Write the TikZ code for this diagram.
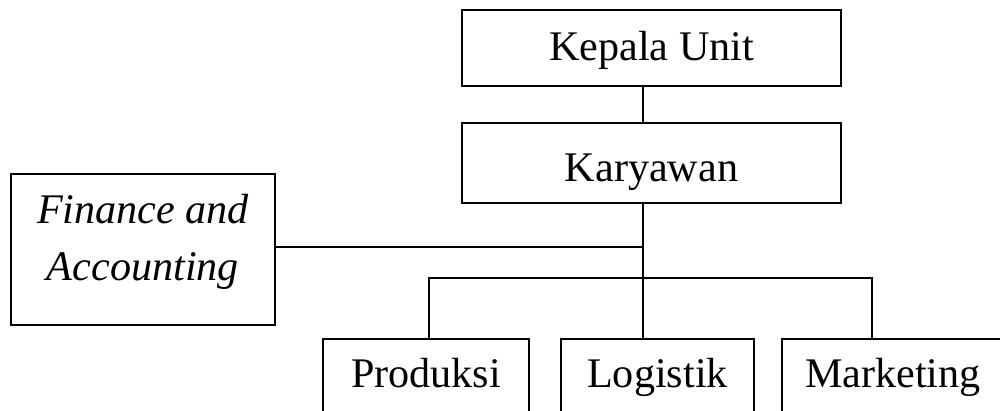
\documentclass[tikz,border=0pt]{standalone}
\usepackage{fontspec}
\setmainfont{Liberation Serif}
\usetikzlibrary{positioning}

\begin{document}
\begin{tikzpicture}[x=0.02cm, y=-0.02cm, line width=1pt,
  unitbox/.style={draw, rectangle, inner sep=0pt, font=\fontsize{24}{32.4}\selectfont,
    text height=18pt, text depth=3.26pt},
  lowbox/.style={unitbox, minimum height=1.52cm, text height=16pt, text depth=3.5pt}]
\clip (0,0) rectangle (1000,411);

\node[unitbox, minimum width=7.58cm, minimum height=1.52cm] (kepala) at (651.5,48) {Kepala Unit};
\node[unitbox, minimum width=7.58cm, minimum height=1.6cm, text height=21.5pt, text depth=0pt] (karyawan) at (651.5,163) {Karyawan};
\node[unitbox, minimum width=5.28cm, minimum height=3.02cm, align=center,
  font=\fontsize{24}{32.4}\selectfont\itshape, text height=42pt, text depth=6.3pt] (finance) at (143,249.5) {Finance and\\Accounting};
\node[lowbox, minimum width=4.12cm] (produksi) at (426,377) {Produksi};
\node[lowbox, minimum width=3.86cm] (logistik) at (657.5,377) {Logistik};
\node[lowbox, minimum width=4.44cm] (marketing) at (893,377) {Marketing};

\coordinate (trunk) at (643,278);
\coordinate (busL) at (429,278);
\coordinate (busR) at (872,278);

\draw (kepala.south -| trunk) -- (karyawan.north -| trunk);
\draw (karyawan.south -| trunk) -- (trunk);
\draw ([yshift=0.05cm]finance.east) -- ([yshift=0.05cm]finance.east -| trunk);
\draw (busL |- produksi.north) -- (busL) -- (busR) -- (busR |- marketing.north);
\draw (trunk) -- (trunk |- logistik.north);
\end{tikzpicture}
\end{document}
